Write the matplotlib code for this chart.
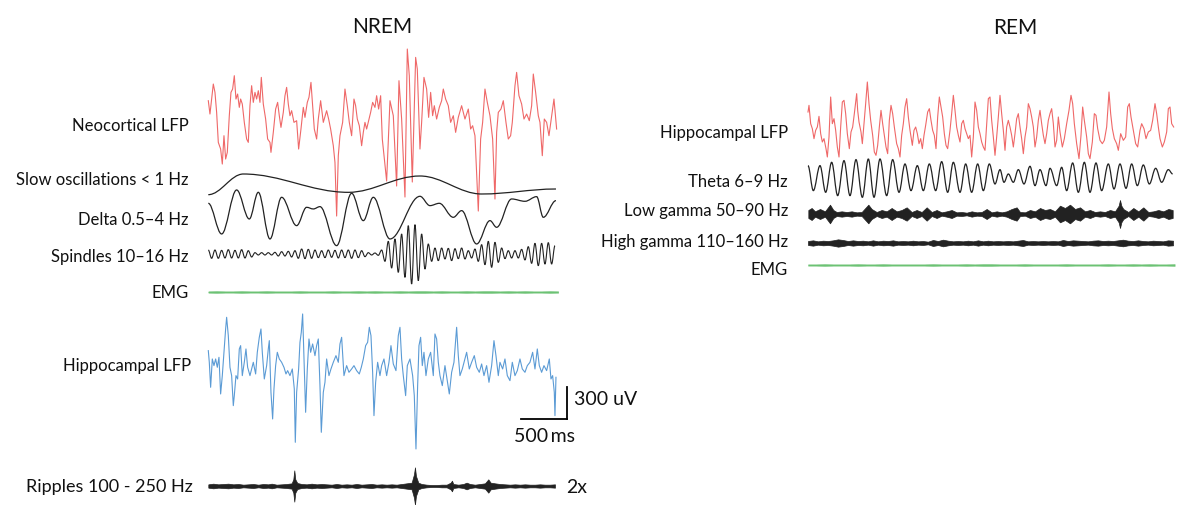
import numpy as np
import matplotlib
matplotlib.use('Agg')
import matplotlib.pyplot as plt
from matplotlib.path import Path
from matplotlib.patches import PathPatch

# Sleep-stage recordings (NREM left, REM right)
# time in samples (nrem_fs samples per second), amplitude in raw counts
nrem_fs = 276          # samples / s
uv_per_count = 3.125   # amplitude calibration

############################### DATA #################################
# NREM neocortical LFP (time, value)
ctx_t = [0, 5, 10, 15, 20, 25, 30, 37, 42, 47, 52, 57, 63, 68, 73, 78, 83, 88, 93, 97,
         102, 108, 115, 120, 125, 130, 135, 140, 145, 150, 155, 159, 165, 172, 178, 185, 188, 195, 202, 208,
         213, 218, 225, 230, 235, 240, 245, 250, 257, 265, 271, 278, 285, 290, 297, 302, 308, 313, 318, 325,
         330, 337, 345, 355, 361, 367, 375, 380, 385, 390, 395, 403, 410, 417, 423, 430, 437, 442, 447, 453,
         460, 465, 470, 475, 482, 487, 493, 500, 505, 511, 517, 522, 535, 545, 555, 565, 572, 580, 590, 597,
         603, 612, 622, 627, 635, 640, 647, 655, 661, 667, 673, 678, 685, 693, 700, 705, 712, 720, 727, 735,
         742, 750, 760, 770, 780, 787, 793, 800, 810, 817, 823, 830, 837, 845, 853, 860, 865, 870, 878, 885,
         893, 900, 907, 912, 920, 925, 932, 940, 947, 955, 963, 970, 975, 982, 990, 995, 1002, 1008, 1015, 1022,
         1030, 1037, 1045]
ctx_v = [45, 5, 50, 95, 70, 10, -80, -100, -145, -60, -130, -110, 0, 70, 80, 120, 50, 65, 25, 50,
         35, -20, -70, -80, 30, 90, 40, 70, 50, 75, 40, 115, 35, -10, -70, -80, -110, -50, 20, 40,
         0, -35, 10, 60, 85, 35, 0, 15, -20, -15, -100, -40, 25, -5, 40, 55, 100, 30, -40, -70,
         -10, 45, -20, 15, -10, -40, -90, -140, -301, -120, -60, -20, 80, 30, -20, -60, 50, 30, -10, -30,
         -90, -50, -20, -40, -10, 10, 40, 25, 60, 20, 60, -70, -196, 45, 0, -211, 105, -10, -244, 200,
         120, -199, 175, 140, -100, -20, 115, 80, -5, 70, 0, 30, -10, 25, 45, 80, 50, 30, -20, 0,
         -50, -5, 30, -10, 20, -40, -30, -60, -286, -70, -20, 80, 40, 0, -70, -250, -50, 10, 20, 45,
         -20, -70, -60, -20, 90, 130, 60, 35, -10, 5, -15, 30, 125, 70, 0, -20, -120, -10, -20, -60,
         0, 50, -40]

# slow oscillation extrema
slow_t = [0, 105, 420, 635, 820, 1043]
slow_v = [-32, 30, -25, 24, -30, -15]

# delta extrema
delta_t = [0, 40, 85, 123, 150, 185, 220, 265, 295, 315, 335, 385, 430, 465, 495, 545,
           635, 665, 693, 735, 760, 805, 845, 865, 910, 950, 985, 1005, 1043]
delta_v = [42, -50, 82, -5, 75, -65, 60, -25, 30, 25, 32, -85, 72, -10, 60, -65,
           63, 35, 42, 0, 20, -80, -10, -30, 55, 48, 62, 0, 50]

# spindle extrema, one every spindle_step samples
spindle_step = 10
spindle_v = [12, -13, 12, -13, 11, -12, 13, -12, 11, -12, 13, -12, 10, -9,
             4, -3, 4, -3, 4, -3, 5,
             -6, 7, -6, 8, -9, 10,
             -13, 15, -14, 14, -13, 12,
             -11, 10, -11, 12, -10, 11, -12,
             12, -11, 12, -13, 12, -11, 10, -8,
             4, -3, 3, -4,
             12, -22,
             38, -42, 45,
             -55, 60, -70,
             85, -90, 88, -80, 60,
             -45, 30, -22,
             18, -20, 18, -15, 17, -20, 16, -14, 18, -15,
             10, -12, 15,
             -22, 28, -32, 38, -40, 35, -25, 18, -14,
             10, -12, 10, -12, 14, -18, 22,
             -28, 32, -35, 32, -30, 34, -30, 25]

# NREM EMG envelope, one every emg_step samples
emg_step = 25
nrem_emg = [2, 3, 2, 2, 3, 2, 2, 3, 2, 2, 2, 3, 2, 2, 2, 3, 2, 2, 3, 2, 3, 2,
            2, 3, 2, 3, 3, 2, 3, 2, 2, 3, 2, 3, 3, 2, 3, 2, 3, 2, 2, 3, 2]

# NREM hippocampal LFP
hpc_t = [0, 3, 7, 12, 17, 22, 27, 32, 37, 42, 47, 52, 55, 60, 65, 70, 75, 78, 83, 88,
         93, 97, 102, 108, 113, 118, 125, 130, 135, 142, 147, 153, 158, 162, 168, 175, 180, 183, 188, 193,
         197, 202, 207, 213, 220, 227, 233, 238, 245, 252, 258, 261, 265, 271, 275, 279, 283, 287, 292, 297,
         302, 307, 313, 320, 325, 330, 335, 339, 345, 350, 355, 362, 368, 375, 383, 390, 395, 400, 407, 415,
         422, 430, 437, 445, 453, 459, 465, 472, 478, 483, 488, 493, 497, 502, 508, 515, 520, 527, 535, 542,
         548, 555, 563, 570, 575, 580, 585, 592, 597, 605, 613, 618, 623, 628, 632, 637, 642, 647, 653, 660,
         667, 675, 680, 685, 690, 695, 702, 710, 717, 723, 730, 737, 745, 750, 755, 762, 770, 775, 783, 790,
         798, 805, 813, 820, 827, 835, 842, 850, 857, 863, 870, 875, 883, 890, 897, 905, 912, 920, 927, 935,
         942, 950, 957, 965, 973, 980, 987, 993, 1000, 1007, 1015, 1023, 1028, 1033, 1038, 1040, 1043]
hpc_v = [50, 15, -60, 25, 5, 25, 0, 30, -80, -25, 45, 115, 150, 95, 0, -25, -115, -85, -25, -35,
         55, 65, -25, 15, 55, 0, -25, -5, 15, -20, 45, 90, 115, 45, -35, 5, 55, 80, -75, -155,
         -65, 5, 45, 25, 15, 0, -20, -10, -25, -5, -65, -225, -75, -5, 75, 105, 160, 25, -135, -5,
         85, 45, 70, 35, 65, 85, -55, -195, -75, -45, 25, -25, -5, 15, 35, 15, 70, 90, -25, 5,
         -15, -5, 5, -10, -20, 0, 25, 65, 75, 120, 95, -15, -145, -45, 15, -25, 5, 25, -25, 15,
         65, 10, -10, 95, 120, 25, -25, -85, 5, 25, -25, -85, -245, -55, 65, 90, 5, 45, -25, 25,
         45, -25, 100, 85, 15, -25, -55, 5, -40, -80, -15, 15, 120, 35, -25, -5, 25, 45, -5, 15,
         35, 0, -15, 10, -25, 5, -45, 5, 80, 35, -25, 15, -5, 25, -25, -40, 15, -25, -10, 25,
         -5, -15, 5, 15, 45, -5, 55, 5, -15, 5, -10, 25, -35, -25, -75, -145, -30]

# ripple envelope (time, half amplitude)
rip_t = [0, 15, 30, 45, 60, 75, 90, 105, 120, 135, 150, 165, 180, 190, 205, 220, 235, 250, 255, 258,
         261, 267, 280, 295, 310, 325, 340, 355, 370, 385, 400, 415, 430, 445, 460, 475, 490, 505, 520, 535,
         550, 565, 580, 595, 610, 617, 620, 623, 630, 640, 655, 670, 685, 700, 715, 727, 731, 735, 750, 765,
         775, 785, 800, 815, 830, 840, 847, 860, 875, 890, 905, 920, 935, 950, 965, 980, 995, 1010, 1025, 1040]
rip_env = [5, 7, 5, 6, 7, 5, 6, 4, 5, 6, 4, 6, 5, 7, 4, 5, 6, 8, 20, 47,
           20, 9, 6, 5, 7, 5, 6, 5, 4, 6, 4, 5, 4, 6, 4, 5, 6, 4, 5, 4,
           5, 4, 6, 8, 10, 35, 56, 30, 10, 6, 4, 3, 3, 4, 4, 10, 16, 6, 4, 6,
           10, 6, 4, 6, 8, 20, 10, 8, 6, 5, 4, 5, 4, 5, 4, 4, 5, 4, 4, 5]

# REM hippocampal LFP
rem_t = [0, 3, 8, 13, 18, 23, 28, 33, 38, 43, 48, 54, 58, 63, 68, 73, 78, 83, 88, 93,
         98, 103, 108, 113, 118, 124, 129, 134, 139, 146, 149, 153, 159, 163, 168, 173, 178, 183, 188, 194,
         199, 204, 209, 214, 219, 224, 229, 234, 239, 244, 249, 254, 259, 266, 271, 276, 281, 286, 291, 296,
         301, 306, 313, 318, 323, 328, 333, 338, 343, 348, 353, 359, 364, 369, 374, 379, 384, 389, 394, 399,
         404, 409, 414, 419, 426, 431, 436, 441, 446, 451, 456, 461, 466, 471, 476, 481, 486, 491, 496, 501,
         506, 511, 516, 521, 526, 531, 536, 541, 546, 551, 556, 561, 566, 571, 576, 581, 586, 591, 596, 601,
         606, 611, 616, 621, 626, 631, 636, 641, 646, 651, 656, 661, 666, 671, 676, 681, 686, 691, 696, 701,
         706, 711, 716, 721, 726, 731, 736, 741, 746, 751, 756, 763, 769, 776, 783, 789, 794, 799, 806, 813,
         819, 824, 829, 836, 841, 846, 853, 859, 864, 869, 876, 883, 889, 896, 903, 908, 913, 919, 926, 931,
         938, 946, 953, 959, 964, 969, 976, 983, 989, 996, 1001, 1008, 1014, 1021, 1028, 1034, 1041, 1046, 1051, 1056,
         1063, 1069, 1076, 1081, 1086, 1091, 1097]
rem_v = [36, 56, 1, -14, -44, -19, -9, 23, -29, -54, -44, -74, -99, -39, 81, 1, 16, -19, -69, -99,
         -9, 66, 71, 31, -29, -74, -24, -9, 31, 91, 41, 6, -24, -59, 1, 61, 126, 61, 11, -34,
         -84, -94, -64, -9, 41, 1, -34, -69, -89, 11, 56, 31, -9, -59, -74, -99, -34, 1, 51, 76,
         21, -19, -64, -19, -9, -29, -59, -44, -74, -34, -4, 36, 46, 11, -19, -34, -74, 21, 81, 51,
         21, -29, -64, -74, -19, 31, 86, 41, -9, -34, -54, 1, 11, -14, -29, -44, -34, -99, -39, 66,
         41, -9, -29, -54, -69, -79, 1, 76, 81, 11, -39, -94, -39, 21, 86, 31, -19, -79, -9, 11,
         -9, -34, -69, -29, 16, 31, -9, -44, -89, -39, -9, 61, 46, 21, -9, -69, -39, 11, 41, 1,
         -34, -59, -29, 11, 31, 46, 1, -69, -49, 21, -24, -69, -44, 1, 41, 86, 61, 1, -59, -104,
         -34, 51, 11, -39, -89, -104, -54, 31, 26, -14, -49, -59, -49, -9, 96, 31, -14, -44, -59, -79,
         -29, -49, -39, 51, 61, 21, -19, -59, -69, -19, 1, -14, -44, -24, -19, 11, 61, 31, -9, -44,
         -69, -54, -24, 46, 51, 1, -9]

# theta extrema
theta_t = [0, 16, 36, 53, 71, 89, 108, 126, 144, 163, 181, 198, 216, 236, 254, 273, 291, 309, 328, 346,
           364, 383, 401, 419, 436, 456, 473, 491, 509, 526, 544, 561, 576, 588, 601, 616, 631, 648, 666, 681,
           696, 714, 726, 746, 761, 776, 794, 811, 829, 846, 864, 881, 901, 918, 936, 954, 971, 988, 1006, 1024,
           1043, 1061, 1081, 1094]
theta_v = [38, -37, 38, -42, 48, -52, 53, -52, 56, -57, 58, -57, 58, -52, 56, -42, 43, -37, 38, -37,
           43, -37, 50, -42, 48, -42, 43, -42, 43, -37, 43, -17, 26, -12, 13, -12, 26, -17, 36, -22,
           26, -22, 30, -22, 33, -37, 46, -42, 48, -42, 46, -37, 43, -32, 43, -30, 43, -22, 40, -17,
           30, -12, 26, 13]

# low gamma envelope
lg_t = [1, 11, 21, 36, 51, 66, 76, 86, 101, 116, 131, 146, 161, 181, 191, 206, 221, 236, 251, 266,
        281, 296, 311, 326, 341, 356, 371, 386, 401, 416, 431, 446, 461, 476, 491, 506, 521, 536, 551, 566,
        581, 596, 611, 626, 636, 651, 666, 681, 696, 711, 726, 741, 756, 771, 786, 801, 816, 831, 846, 861,
        876, 891, 906, 921, 932, 936, 940, 946, 961, 976, 991, 1006, 1021, 1036, 1051, 1066, 1081, 1094]
lg_env = [12, 18, 8, 15, 8, 28, 12, 6, 8, 6, 8, 5, 6, 28, 15, 6, 12, 8, 18, 8,
          12, 20, 6, 12, 6, 20, 6, 12, 5, 8, 12, 5, 6, 4, 8, 5, 6, 15, 5, 8,
          5, 8, 15, 20, 6, 5, 12, 8, 18, 12, 15, 8, 25, 18, 28, 15, 20, 8, 12, 6,
          8, 6, 12, 8, 25, 42, 25, 15, 6, 18, 8, 20, 6, 8, 12, 8, 15, 12]

# high gamma envelope, one every hg_step samples
hg_step = 15
hg_env = [6, 8, 5, 7, 6, 8, 11, 9, 6, 8, 6, 7, 5, 8, 5, 7, 6, 8, 5, 6, 5, 7, 5, 6, 4, 9,
          6, 10, 7, 5, 6, 5, 7, 5, 8, 5, 7, 5, 6, 5, 6, 5, 7, 9, 5, 6, 5, 6, 5, 6, 5, 9,
          6, 8, 7, 6, 5, 7, 8, 6, 7, 6, 8, 10, 7, 6, 8, 6, 5, 7, 6, 5, 8, 7]

# REM EMG envelope
rem_emg = [2, 2, 3, 2, 2, 2, 3, 2, 2, 3, 2, 2, 2, 2, 2, 3, 2, 2, 2, 3, 2, 3, 3,
           2, 2, 2, 3, 2, 2, 2, 2, 3, 2, 2, 2, 2, 3, 2, 2, 3, 2, 3, 2, 2, 3]

############################## FIGURE ################################
W, H = 1178, 506
fig = plt.figure(figsize=(W / 100, H / 100), dpi=100)
plt.rcParams['font.family'] = ['Lato', 'DejaVu Sans']

red = '#ef6868'
blue = '#5b9bd5'
green = '#6cc274'
black = '#222222'


def trace_ax(x0, yc, n_px, h_px=120):
    # one axes per trace, 3 samples and 3 counts per pixel
    ax = fig.add_axes([x0 / W, (H - yc - h_px / 2) / H, n_px / W, h_px / H])
    ax.set_xlim(0, n_px * 3)
    ax.set_ylim(-h_px * 1.5, h_px * 1.5)
    ax.axis('off')
    return ax


def smooth(ax, ts, vs, color=black, lw=0.9):
    # smooth curve through extrema (flat tangent at each one)
    verts = [(ts[0], vs[0])]
    codes = [Path.MOVETO]
    for i in range(len(ts) - 1):
        dt = ts[i + 1] - ts[i]
        verts += [(ts[i] + 0.36 * dt, vs[i]), (ts[i + 1] - 0.36 * dt, vs[i + 1]), (ts[i + 1], vs[i + 1])]
        codes += [Path.CURVE4] * 3
    ax.add_patch(PathPatch(Path(verts, codes), fill=False, ec=color, lw=lw, clip_on=False))


def band(ax, ts, env, color=black, lw=0.5):
    env = np.array(env)
    ax.fill_between(ts, -env, env, color=color, lw=lw, clip_on=False)


def label(x, y, s, size=12, ha='right'):
    fig.text(x / W, 1 - y / H, s, ha=ha, va='center', fontsize=size, color='#111111')


# ---------- NREM ----------
x_n = 208.3
n_n = 350
ax = trace_ax(x_n, 116.7, n_n)
ax.plot(ctx_t, ctx_v, color=red, lw=0.8, clip_on=False)

ax = trace_ax(x_n, 185, n_n)
smooth(ax, slow_t, slow_v)

ax = trace_ax(x_n, 218.3, n_n)
smooth(ax, delta_t, delta_v)

ax = trace_ax(x_n, 255, n_n)
smooth(ax, list(np.arange(len(spindle_v)) * spindle_step), spindle_v, lw=0.8)

ax = trace_ax(x_n, 293, n_n)
band(ax, np.arange(len(nrem_emg)) * emg_step, nrem_emg, green, lw=0.3)

ax = trace_ax(x_n, 368.3, n_n)
ax.plot(hpc_t, hpc_v, color=blue, lw=0.8, clip_on=False)
# scale bars: 300 uV and 500 ms
bar_t = 1075
bar_v = -155
ax.plot([bar_t, bar_t], [bar_v, bar_v + 300 / uv_per_count], color='black', lw=1.3, clip_on=False)
ax.plot([bar_t - 0.5 * nrem_fs, bar_t], [bar_v, bar_v], color='black', lw=1.3, clip_on=False)

ax = trace_ax(x_n, 487, n_n)
band(ax, rip_t, rip_env)

# ---------- REM ----------
x_r = 808
n_r = 366
ax = trace_ax(x_r, 125, n_r)
ax.plot(rem_t, rem_v, color=red, lw=0.8, clip_on=False)

ax = trace_ax(x_r, 179.3, n_r)
smooth(ax, theta_t, theta_v)

ax = trace_ax(x_r, 215, n_r)
band(ax, lg_t, lg_env)

ax = trace_ax(x_r, 244, n_r)
band(ax, np.arange(len(hg_env)) * hg_step, hg_env)

ax = trace_ax(x_r, 266, n_r)
band(ax, np.arange(len(rem_emg)) * emg_step, rem_emg, green, lw=0.3)

# ---------- text ----------
label(382, 27, 'NREM', size=15, ha='center')
label(1015, 28, 'REM', size=15, ha='center')

label(189, 126, 'Neocortical LFP')
label(189, 180, 'Slow oscillations < 1 Hz')
label(189, 220, 'Delta 0.5\u20134 Hz')
label(189, 257, 'Spindles 10\u201316 Hz')
label(189, 293, 'EMG')
label(191, 366, 'Hippocampal LFP')
label(193, 487, 'Ripples 100 - 250 Hz', size=13)
label(566, 488, '2x', size=14, ha='left')
label(574, 400, '300 uV', size=14, ha='left')
label(544, 437, '500\u2009ms', size=14, ha='center')

label(788, 133, 'Hippocampal LFP')
label(788, 182, 'Theta 6\u20139 Hz')
label(788, 211, 'Low gamma 50\u201390 Hz')
label(788, 242, 'High gamma 110\u2013160 Hz')
label(788, 270, 'EMG')

fig.savefig('out.png', dpi=100)
